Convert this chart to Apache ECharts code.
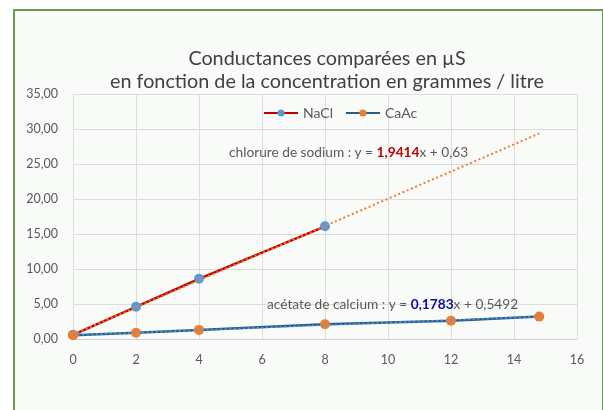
<!DOCTYPE html>
<html>
<head>
<meta charset="utf-8">
<script src="https://cdn.jsdelivr.net/npm/echarts@6/dist/echarts.min.js"></script>
<style>
  html, body { margin: 0; padding: 0; background: #fff; }
  .frame {
    position: absolute; left: 13px; top: 9px; width: 587px; height: 420px;
    background: #f9fbf9; border: 2px solid #6a9c4c;
  }
  #chart { position: absolute; left: 0; top: 0; width: 603px; height: 410px; }
</style>
</head>
<body>
<div class="frame"></div>
<div id="chart"></div>
<script>
// concentrations (g/L) et conductances (µS)
const naclX = [0, 2, 4, 8]
const naclY = [0.6, 4.6, 8.6, 16.1]
const cacX = [0, 2, 4, 8, 12, 14.8]
const cacY = [0.55, 0.9, 1.3, 2.1, 2.6, 3.2]

// courbes de tendance (extrémités)
const naclTrendX = [0, 14.8]
const naclTrendY = [0.63, 29.36]
const cacTrendX = [0, 14.8]
const cacTrendY = [0.55, 3.19]

const xTicks = [0, 2, 4, 6, 8, 10, 12, 14, 16]
const yTicks = [0, 5, 10, 15, 20, 25, 30, 35]

const font = 'Lato, "Open Sans", sans-serif'
const pairs = (xs, ys) => xs.map((x, i) => [x, ys[i]])

const chart = echarts.init(document.getElementById('chart'))

chart.setOption({
  backgroundColor: 'transparent',
  animation: false,
  textStyle: { fontFamily: font },
  title: {
    text: 'Conductances comparées en µS\nen fonction de la concentration en grammes / litre',
    left: 322,
    top: 42,
    textAlign: 'center',
    textStyle: { fontSize: 19.8, fontWeight: 'normal', color: '#404040', lineHeight: 23, fontFamily: font }
  },
  legend: {
    data: ['NaCl', 'CaAc'],
    left: 258,
    top: 101,
    itemWidth: 34,
    itemHeight: 9,
    itemGap: 12,
    textStyle: { fontSize: 14, color: '#595959', fontFamily: font }
  },
  grid: { left: 73, right: 26, top: 94, bottom: 71 },
  xAxis: {
    type: 'value',
    min: xTicks[0],
    max: xTicks[xTicks.length - 1],
    interval: 2,
    axisLine: { show: true, lineStyle: { color: '#d0d0d0', width: 1 } },
    axisTick: { show: false },
    axisLabel: { color: '#595959', fontSize: 12.5, margin: 14, fontFamily: font },
    splitLine: { show: true, lineStyle: { color: '#dcdcdc', width: 1 } }
  },
  yAxis: {
    type: 'value',
    min: yTicks[0],
    max: yTicks[yTicks.length - 1],
    interval: 5,
    axisLine: { show: false },
    axisTick: { show: false },
    axisLabel: {
      color: '#595959', fontSize: 12.5, margin: 15, fontFamily: font,
      formatter: v => v.toFixed(2).replace('.', ',')
    },
    splitLine: { show: true, lineStyle: { color: '#dcdcdc', width: 1 } }
  },
  series: [
    {
      name: 'NaCl',
      type: 'line',
      data: pairs(naclX, naclY),
      symbol: 'circle',
      symbolSize: 10,
      itemStyle: { color: '#5b9bd5' },
      lineStyle: { color: '#c00000', width: 2.5 },
      z: 3
    },
    {
      name: 'CaAc',
      type: 'line',
      data: pairs(cacX, cacY),
      symbol: 'circle',
      symbolSize: 10,
      itemStyle: { color: '#ed7d31' },
      lineStyle: { color: '#255e91', width: 2.5 },
      z: 3
    },
    {
      name: 'tendance NaCl',
      type: 'line',
      data: pairs(naclTrendX, naclTrendY),
      showSymbol: false,
      symbol: 'none',
      silent: true,
      lineStyle: { color: '#ed7d31', width: 2, type: [2, 2.6] },
      z: 4
    },
    {
      name: 'tendance CaAc',
      type: 'line',
      data: pairs(cacTrendX, cacTrendY),
      showSymbol: false,
      symbol: 'none',
      silent: true,
      lineStyle: { color: '#5b9bd5', width: 1.5, type: [2, 2.6] },
      z: 4
    }
  ],
  graphic: [
    {
      type: 'text',
      left: 229,
      top: 146,
      z: 10,
      style: {
        text: '{a|chlorure de sodium : y = }{r|1,9414}{a|x + 0,63}',
        rich: {
          a: { fontSize: 13.7, fill: '#595959', fontFamily: font },
          r: { fontSize: 13.7, fill: '#c00000', fontWeight: 'bold', fontFamily: font }
        }
      }
    },
    {
      type: 'text',
      left: 267,
      top: 298,
      z: 10,
      style: {
        text: '{a|acétate de calcium : y = }{b|0,1783}{a|x + 0,5492}',
        rich: {
          a: { fontSize: 13.7, fill: '#595959', fontFamily: font },
          b: { fontSize: 13.7, fill: '#0d0d99', fontWeight: 'bold', fontFamily: font }
        }
      }
    }
  ]
})
</script>
</body>
</html>
